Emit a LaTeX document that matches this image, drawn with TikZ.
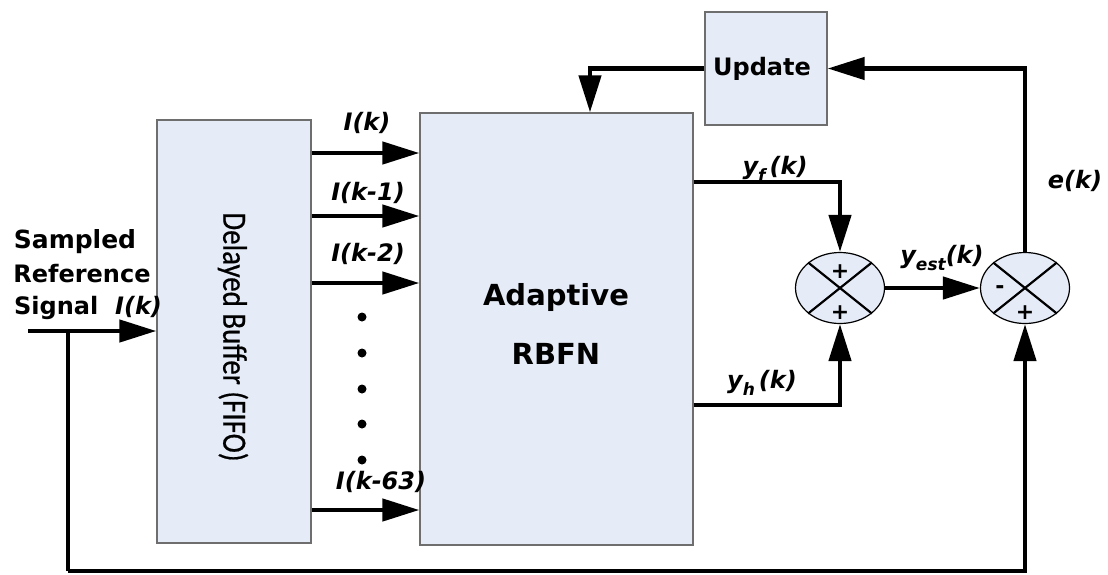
\documentclass[tikz,border=0pt]{standalone}
\usepackage{fontspec}
\setmainfont{DejaVu Sans}
\newfontfamily\calfont[FakeBold=0.6]{Carlito}
\usetikzlibrary{arrows.meta,shapes.geometric}
\definecolor{boxfill}{HTML}{E6ECF7}
\definecolor{boxline}{HTML}{6E6E6E}
\newcommand{\lbl}{\fontsize{24}{28}\selectfont\bfseries\itshape}
\newcommand{\sub}[1]{\raisebox{-0.3em}{\fontsize{17}{17}\selectfont #1}}
\begin{document}
\begin{tikzpicture}[x=1pt,y=-1pt,
  blk/.style={draw=boxline, line width=1.3pt, fill=boxfill, inner sep=0pt},
  sumnode/.style={ellipse, draw=black, line width=1.2pt, fill=boxfill, minimum width=89pt, minimum height=71pt, inner sep=0pt},
  wire/.style={line width=4.5pt},
  arr/.style={line width=4.5pt, -{Triangle[length=37pt,width=22pt]}},
  lab/.style={font=\lbl, inner sep=0pt},
  big/.style={font=\fontsize{24}{28}\selectfont\bfseries, inner sep=0pt},
  sgn/.style={font=\fontsize{22}{22}\selectfont\bfseries, inner sep=0pt},
  dot/.style={circle, fill=black, minimum size=9pt, inner sep=0pt}]
\useasboundingbox (0,0) rectangle (1108,574);

% blocks
\node[blk, minimum width=154pt, minimum height=423pt] (buf) at (234,331.5) {};
\node[blk, minimum width=273pt, minimum height=432pt] (rbfn) at (556.5,329) {};
\node[blk, minimum width=122pt, minimum height=113pt] (upd) at (766,68.5) {};
\node[sumnode] (s1) at (840,288) {};
\node[sumnode] (s2) at (1025,288) {};
\draw[line width=2.2pt] (s1.north west) -- (s1.south east) (s1.north east) -- (s1.south west);
\draw[line width=2.2pt] (s2.north west) -- (s2.south east) (s2.north east) -- (s2.south west);

% texts in blocks
\node[rotate=-90, inner sep=0pt] (buftxt) at (233,337) {\scalebox{0.85}[1]{\calfont\fontsize{34}{40}\selectfont Delayed Buffer (FIFO)}};
\node[big, font=\fontsize{29}{34}\selectfont\bfseries] (ad) at (556,297) {Adaptive};
\node[big, font=\fontsize{29}{34}\selectfont\bfseries] (rb) at (556,354) {RBFN};
\node[big] (updtxt) at (762,69) {Update};
\node[sgn] (p1a) at (840,272) {+};
\node[sgn] (p1b) at (840,313) {+};
\node[sgn] (m2) at (1000,290) {-};
\node[sgn] (p2b) at (1025,313) {+};

% input
\coordinate (in) at (28,331);
\coordinate (br) at (68,331);
\coordinate (fb) at (68,571);
\draw[arr] (in) -- (in -| buf.west);
\draw[wire] (br) -- (fb);
\draw[arr] (fb) -| (s2.south);

% taps
\foreach \y/\n in {153/a,216/b,283/c,510/d}{
  \coordinate (t\n) at (0,\y);
  \draw[arr] (buf.east |- t\n) -- (rbfn.west |- t\n);
}
\foreach \y [count=\i] in {317,353,389,424,460}{
  \node[dot] (d\i) at (362,\y) {};
}

% outputs
\coordinate (yf) at (0,182);
\coordinate (yh) at (0,405);
\draw[arr] (rbfn.east |- yf) -| (s1.north);
\draw[arr] (rbfn.east |- yh) -| (s1.south);
\draw[arr] (s1.east) -- (s2.west);
\draw[arr] (s2.north) |- (upd.east);
\coordinate (ut) at (590,0);
\draw[arr] (upd.west) -| (ut |- rbfn.north);

% labels
\node[lab] (l1) at (367,123) {I(k)};
\node[lab] (l2) at (368,193) {I(k-1)};
\node[lab] (l3) at (368,254) {I(k-2)};
\node[lab] (l4) at (381,482) {I(k-63)};
\node[lab, anchor=base] (lyf) at (775,174) {y\sub{f}\,(k)};
\node[lab, anchor=base] (lyh) at (762,388) {y\sub{h}\,(k)};
\node[lab, anchor=base] (lye) at (942,263) {y\sub{est}(k)};
\node[lab] (le) at (1075,181) {e(k)};
\node[big, font=\fontsize{25}{29}\selectfont\bfseries] (s1t) at (75,242) {Sampled};
\node[big] (s2t) at (82,274) {Reference};
\node[big, anchor=base west] (s3t) at (14,314) {Signal\ \ {\itshape I(k)}};
\end{tikzpicture}
\end{document}
